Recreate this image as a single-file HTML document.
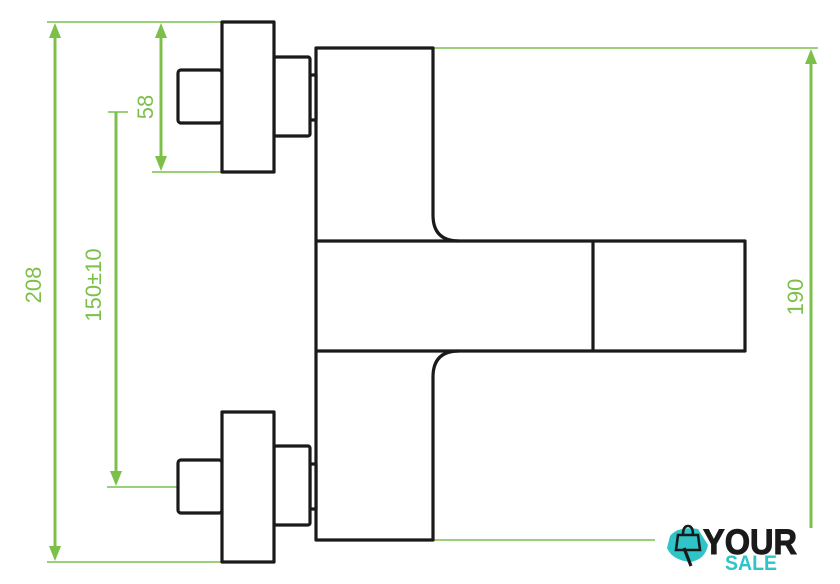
<!DOCTYPE html>
<html><head><meta charset="utf-8"><style>
html,body{margin:0;padding:0;background:#fff;width:840px;height:584px;overflow:hidden}
svg{display:block}
</style></head><body>
<svg width="840" height="584" viewBox="0 0 840 584" xmlns="http://www.w3.org/2000/svg">
<g stroke="#7cc04a" stroke-width="1.6" fill="none">
  <line x1="47" y1="22" x2="222" y2="22"/>
  <line x1="47" y1="562" x2="222" y2="562"/>
  <line x1="152" y1="172" x2="222" y2="172"/>
  <line x1="107" y1="487" x2="178" y2="487"/>
  <line x1="108" y1="112" x2="128" y2="112"/>
  <line x1="433" y1="48" x2="818" y2="48"/>
  <line x1="433" y1="540" x2="655" y2="540"/>
</g>
<g stroke="#7cc04a" stroke-width="3" fill="none">
  <line x1="55" y1="34" x2="55" y2="550"/>
  <line x1="161" y1="34" x2="161" y2="160"/>
  <line x1="116" y1="112" x2="116" y2="475"/>
  <line x1="811" y1="60" x2="811" y2="528"/>
</g>
<g fill="#7cc04a">
  <polygon points="55,23 49,38 61,38"/>
  <polygon points="55,561 49,546 61,546"/>
  <polygon points="161,23 155,38 167,38"/>
  <polygon points="161,171 155,156 167,156"/>
  <polygon points="116,486 110,471 122,471"/>
  <polygon points="811,49 805,64 817,64"/>
</g>
<g fill="#7cc04a" font-family="Liberation Sans, sans-serif" font-size="22" font-weight="300">
  <text transform="translate(41,285) rotate(-90)" text-anchor="middle">208</text>
  <text transform="translate(153,107) rotate(-90)" text-anchor="middle">58</text>
  <text transform="translate(101,285) rotate(-90)" text-anchor="middle">150±10</text>
  <text transform="translate(803,297) rotate(-90)" text-anchor="middle">190</text>
</g>
<g stroke="#1a1a1a" stroke-width="3.2" fill="#fff" stroke-linejoin="round">
  <path d="M316,48 H433 V215 Q433,241 459,241 H745 V351 H459 Q433,351 433,377 V540 H316 Z"/>
  <line x1="316" y1="241" x2="459" y2="241"/>
  <line x1="316" y1="351" x2="459" y2="351"/>
  <line x1="593" y1="241" x2="593" y2="351"/>
  <rect x="178" y="70" width="44" height="53" rx="3"/>
  <rect x="310" y="75" width="6" height="45"/>
  <rect x="274" y="57" width="36" height="79" rx="2"/>
  <rect x="222" y="22" width="52" height="150"/>
  <rect x="178" y="460" width="44" height="53" rx="3"/>
  <rect x="310" y="464" width="6" height="45"/>
  <rect x="274" y="446" width="36" height="79" rx="2"/>
  <rect x="222" y="412" width="52" height="150"/>
</g>
<g>
  <path d="M670,536 Q678,526 698,529 L708,545 Q705,560 690,562 Q672,560 667,548 Z" fill="#2ec4c8"/>
  <path d="M678,535 h20 l2,15 h-24 z M683,535 q0,-9 5,-9 q5,0 5,9" stroke="#1a1a1a" stroke-width="2.6" fill="none"/>
  <path d="M684,548 l7,18" stroke="#1a1a1a" stroke-width="3.2" fill="none"/>
  <text x="703" y="554" font-family="Liberation Sans, sans-serif" font-weight="bold" font-size="35" fill="#1a1a1a" stroke="#1a1a1a" stroke-width="1" textLength="94" lengthAdjust="spacingAndGlyphs">YOUR</text>
  <text x="725" y="570" font-family="Liberation Sans, sans-serif" font-weight="bold" font-size="21" fill="#2ec4c8" textLength="52" lengthAdjust="spacingAndGlyphs">SALE</text>
</g>
</svg>
</body></html>
